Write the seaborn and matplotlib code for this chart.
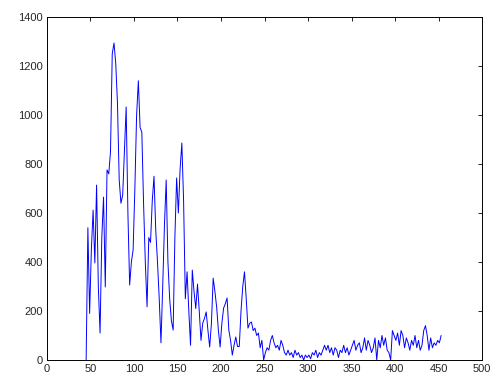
import numpy as np
import pandas as pd
import matplotlib
matplotlib.use("Agg")
import matplotlib.pyplot as plt
import seaborn as sns

x_start = 45
x_step = 2
values = [
    0, 540, 190, 450, 612, 396, 714, 300, 110, 500,
    665, 298, 776, 760, 850, 1250, 1294, 1212, 1049, 735,
    640, 673, 850, 1033, 600, 306, 400, 450, 700, 1000,
    1140, 950, 930, 640, 400, 217, 500, 480, 650, 750,
    530, 400, 250, 70, 300, 550, 735, 400, 250, 160,
    122, 500, 743, 600, 780, 886, 650, 250, 360, 200,
    60, 367, 280, 210, 310, 200, 80, 150, 170, 196,
    120, 53, 150, 334, 280, 216, 120, 53, 150, 212,
    230, 253, 122, 80, 20, 60, 94, 55, 55, 200,
    300, 360, 250, 130, 150, 155, 120, 130, 100, 110,
    50, 80, 0,
    30, 50, 40, 80, 100, 70, 50, 60, 40, 80,
    60, 30, 20, 40, 20, 30, 10, 40, 20, 30,
    10, 20, 0, 20, 10, 20, 5, 30, 20, 40,
    10, 30, 20, 40, 60, 40, 60, 30, 50, 20,
    50, 40, 10, 40, 30, 60, 30, 50, 20, 40,
    60, 80, 40, 60, 70, 30, 50, 90, 40, 80,
    60, 30, 50, 90, 0, 80, 50, 100, 60, 90,
    40, 30, 0, 120, 100, 80, 110, 60, 120, 100,
    50, 90, 70, 40, 80, 60, 100, 50, 80, 40,
    60, 120, 140, 100, 40, 90, 50, 70, 60, 80,
    70, 100,
]
x_vals = x_start + x_step * np.arange(len(values))
df = pd.DataFrame({"x": x_vals, "y": values})

x_ticks = [0, 50, 100, 150, 200, 250, 300, 350, 400, 450, 500]
y_ticks = [0, 200, 400, 600, 800, 1000, 1200, 1400]

sns.set_style("white")
plt.rcParams["font.family"] = ["Liberation Sans", "DejaVu Sans"]
plt.rcParams["xtick.direction"] = "in"
plt.rcParams["ytick.direction"] = "in"

fig = plt.figure(figsize=(4.91, 3.76), dpi=100)
ax = fig.add_axes([0.0957, 0.0426, 0.886, 0.912])
sns.lineplot(data=df, x="x", y="y", ax=ax, color="#0000ff", linewidth=0.7)
ax.set_xlim(0, 500)
ax.set_ylim(0, 1400)
ax.set_xticks(x_ticks)
ax.set_yticks(y_ticks)
ax.set_xlabel("")
ax.set_ylabel("")
ax.tick_params(axis="both", which="both", direction="in", length=3, width=0.6,
               labelsize=8, top=True, right=True, color="black", pad=3)
for s in ax.spines.values():
    s.set_color("black")
    s.set_linewidth(0.7)
fig.savefig("out.png", dpi=100, facecolor="white")
